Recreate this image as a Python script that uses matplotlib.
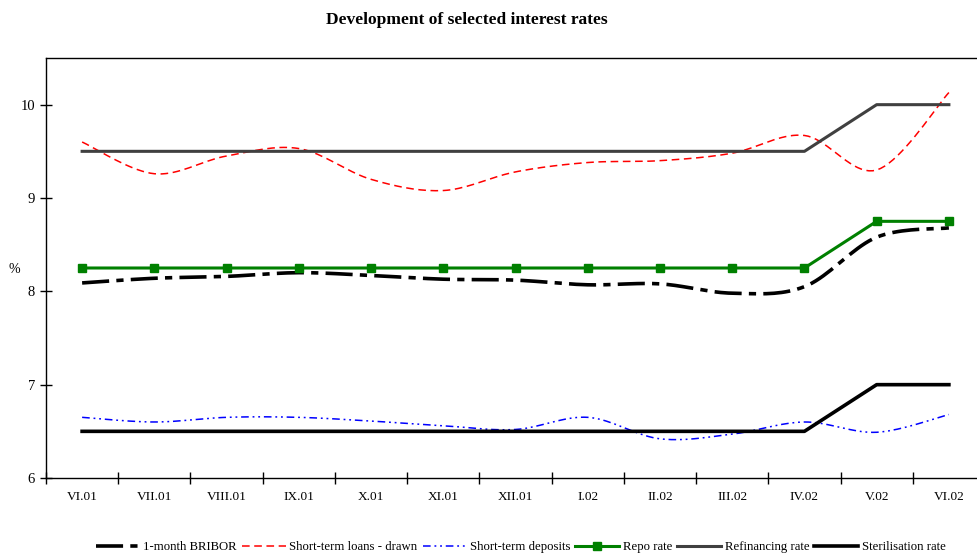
import numpy as np
import matplotlib.pyplot as plt

plt.rcParams['font.family'] = ['Liberation Serif', 'DejaVu Serif']

months = ['VI.01', 'VII.01', 'VIII.01', 'IX.01', 'X.01', 'XI.01', 'XII.01',
          'I.02', 'II.02', 'III.02', 'IV.02', 'V.02', 'VI.02']

bribor = [8.09, 8.14, 8.16, 8.20, 8.17, 8.13, 8.12, 8.07, 8.08, 7.98, 8.05, 8.58, 8.68]
loans = [9.60, 9.26, 9.45, 9.53, 9.20, 9.08, 9.28, 9.38, 9.40, 9.48, 9.67, 9.30, 10.13]
deposits = [6.65, 6.60, 6.65, 6.65, 6.61, 6.56, 6.52, 6.65, 6.42, 6.47, 6.60, 6.49, 6.68]
repo = [8.25] * 11 + [8.75, 8.75]
refin = [9.5] * 11 + [10.0, 10.0]
steril = [6.5] * 11 + [7.0, 7.0]


def smooth(y, n=20):
    # Excel-style smoothed line: cubic Bezier with Catmull-Rom control points
    y = np.asarray(y, float)
    x = np.arange(len(y), dtype=float)
    px = np.concatenate([[x[0]], x, [x[-1]]])
    py = np.concatenate([[y[0]], y, [y[-1]]])
    xs, ys = [], []
    t = np.linspace(0, 1, n)
    for i in range(len(y) - 1):
        p0 = np.array([px[i + 1], py[i + 1]])
        p3 = np.array([px[i + 2], py[i + 2]])
        p1 = p0 + (np.array([px[i + 2], py[i + 2]]) - np.array([px[i], py[i]])) / 6
        p2 = p3 - (np.array([px[i + 3], py[i + 3]]) - np.array([px[i + 1], py[i + 1]])) / 6
        b = ((1 - t) ** 3)[:, None] * p0 + (3 * (1 - t) ** 2 * t)[:, None] * p1 \
            + (3 * (1 - t) * t ** 2)[:, None] * p2 + (t ** 3)[:, None] * p3
        xs.extend(b[:, 0])
        ys.extend(b[:, 1])
    return xs, ys


fig = plt.figure(figsize=(9.77, 5.55), dpi=100)
ax = fig.add_axes([46 / 977, 77 / 555, 939 / 977, 420 / 555])

x = np.arange(len(months))

ax.plot(*smooth(bribor), color='black', lw=2.6, dashes=(7.5, 2, 2, 2), label='1-month BRIBOR')
ax.plot(*smooth(loans), color='red', lw=1.1, dashes=(5, 3), label='Short-term loans - drawn')
ax.plot(*smooth(deposits), color='blue', lw=1.1, dashes=(5, 2.5, 1.2, 2.5, 1.2, 2.5),
        label='Short-term deposits')
ax.plot(x, repo, color='#008000', lw=2.2, marker='s', ms=5.5, label='Repo rate')
ax.plot(x, refin, color='#404040', lw=2.2, label='Refinancing rate')
ax.plot(x, steril, color='black', lw=2.6, label='Sterilisation rate')

ax.set_xlim(-0.5, 12.5)
ax.set_ylim(6, 10.5)
ax.set_yticks([6, 7, 8, 9, 10])
ax.set_xticks(np.arange(-0.5, 13, 1))
ax.set_xticklabels([])
ax.set_xticks(x, minor=True)
ax.set_xticklabels(months, minor=True, fontsize=9.5)
ax.tick_params(axis='x', which='minor', length=0, pad=9)
ax.tick_params(axis='both', which='major', direction='inout', length=8, width=1, labelsize=10.5)
ax.tick_params(axis='y', pad=4)
for s in ax.spines.values():
    s.set_linewidth(1)

ax.set_ylabel('%', rotation=0, fontsize=10)
ax.yaxis.set_label_coords(-0.034, 0.48)

fig.suptitle('Development of selected interest rates', fontsize=12.5, fontweight='bold', y=0.978,
             x=0.478)

fig.legend(loc='center', bbox_to_anchor=(0.533, 0.014), ncol=6, frameon=False, fontsize=9.2,
           handlelength=3.4, handletextpad=0.3, columnspacing=0.4)

fig.savefig('out.png', dpi=100)
